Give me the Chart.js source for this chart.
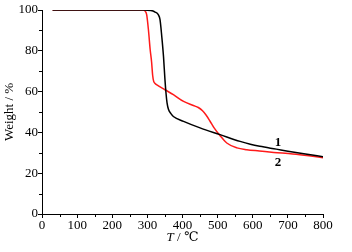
<!DOCTYPE html>
<html>
<head>
<meta charset="utf-8">
<script src="https://cdn.jsdelivr.net/npm/chart.js@4/dist/chart.umd.min.js"></script>
<style>
  html, body { margin: 0; padding: 0; background: #fff; }
</style>
</head>
<body>
<canvas id="tga" width="352" height="252"></canvas>
<script>
// curve 1 (black)
const temp1 = [30, 200, 290, 310, 322, 331, 336, 341, 346, 350, 353, 356, 360, 367, 374, 403, 450, 507, 564, 593, 620, 667, 700, 750, 800];
const weight1 = [100, 100, 100, 99.8, 99, 97.7, 95.3, 87, 77, 66, 59.3, 54.5, 51.3, 49.2, 47.8, 45.4, 42.2, 38.9, 35.6, 34.2, 33.2, 31.8, 30.8, 29.4, 28.1];
// curve 2 (red)
const temp2 = [30, 200, 288, 293, 298, 303, 308, 312, 315, 318, 322, 327, 350, 374, 403, 431, 445, 457, 467, 478, 490, 507, 526, 555, 583, 619, 660, 714, 760, 800];
const weight2 = [100, 100, 100, 99.6, 97.7, 90.3, 80.5, 74.5, 68, 65, 64, 63.3, 60.9, 58.5, 55.2, 53.2, 52.2, 50.6, 48.5, 45.6, 42.2, 38.4, 34.8, 32.4, 31.5, 30.9, 30.2, 29.4, 28.5, 27.6];
const curveLabels = ['1', '2'];
const labelPos = [[672, 35], [672, 25.2]];
const xMinor = [50, 150, 250, 350, 450, 550, 650, 750];
const yMinor = [10, 30, 50, 70, 90];

const serif = '"Liberation Serif", "DejaVu Serif", serif';

const toPoints = (xs, ys) => xs.map((x, i) => ({ x: x, y: ys[i] }));

const extras = {
    id: 'extras',
    afterDraw(chart) {
        const ctx = chart.ctx;
        const xs = chart.scales.x, ys = chart.scales.y;
        const area = chart.chartArea;
        ctx.save();
        ctx.strokeStyle = '#000';
        ctx.lineWidth = 1;
        ctx.beginPath();
        xMinor.forEach(v => {
            const px = Math.round(xs.getPixelForValue(v)) + 0.5;
            ctx.moveTo(px, area.bottom);
            ctx.lineTo(px, area.bottom + 3);
        });
        yMinor.forEach(v => {
            const py = Math.round(ys.getPixelForValue(v)) + 0.5;
            ctx.moveTo(area.left, py);
            ctx.lineTo(area.left - 3, py);
        });
        ctx.stroke();

        // curve numbers
        ctx.fillStyle = '#000';
        ctx.font = 'bold 13px ' + serif;
        ctx.textAlign = 'center';
        ctx.textBaseline = 'middle';
        curveLabels.forEach((t, i) => {
            ctx.fillText(t, xs.getPixelForValue(labelPos[i][0]), ys.getPixelForValue(labelPos[i][1]));
        });

        // x title: italic T
        const cx = (area.left + area.right) / 2;
        const cy = 238;
        ctx.textAlign = 'left';
        ctx.font = 'italic 13px ' + serif;
        const tW = ctx.measureText('T').width;
        ctx.font = '13px ' + serif;
        const rest = ' / \u2103';
        const rW = ctx.measureText(rest).width;
        const x0 = cx - (tW + rW) / 2;
        ctx.font = 'italic 13px ' + serif;
        ctx.fillText('T', x0, cy);
        ctx.font = '13px ' + serif;
        ctx.fillText(rest, x0 + tW, cy);
        ctx.restore();
    }
};

new Chart(document.getElementById('tga'), {
    type: 'line',
    data: {
        datasets: [
            {
                label: '1',
                data: toPoints(temp1, weight1),
                borderColor: '#000',
                borderWidth: 1.5,
                pointRadius: 0,
                fill: false,
                cubicInterpolationMode: 'monotone'
            },
            {
                label: '2',
                data: toPoints(temp2, weight2),
                borderColor: '#ff1a1a',
                borderWidth: 1.5,
                pointRadius: 0,
                fill: false,
                cubicInterpolationMode: 'monotone'
            }
        ]
    },
    options: {
        responsive: false,
        animation: false,
        devicePixelRatio: 1,
        layout: { padding: { top: 10, right: 29, left: 0, bottom: 0 } },
        plugins: { legend: { display: false }, tooltip: { enabled: false } },
        scales: {
            x: {
                type: 'linear',
                min: 0,
                max: 800,
                ticks: { stepSize: 100, color: '#000', font: { family: serif, size: 13 }, padding: 0, maxRotation: 0 },
                grid: { drawOnChartArea: false, tickLength: 4, color: '#000' },
                border: { color: '#000', width: 1 },
                afterFit: s => { s.height = 38; }
            },
            y: {
                min: 0,
                max: 100,
                ticks: { stepSize: 20, color: '#000', font: { family: serif, size: 13 }, padding: 0 },
                grid: { drawOnChartArea: false, tickLength: 4, color: '#000' },
                border: { color: '#000', width: 1 },
                title: { display: true, text: 'Weight / %', color: '#000', font: { family: serif, size: 13 }, padding: { top: 2, bottom: 0 } },
                afterFit: s => { s.width = 42; }
            }
        }
    },
    plugins: [extras]
});
</script>
</body>
</html>
